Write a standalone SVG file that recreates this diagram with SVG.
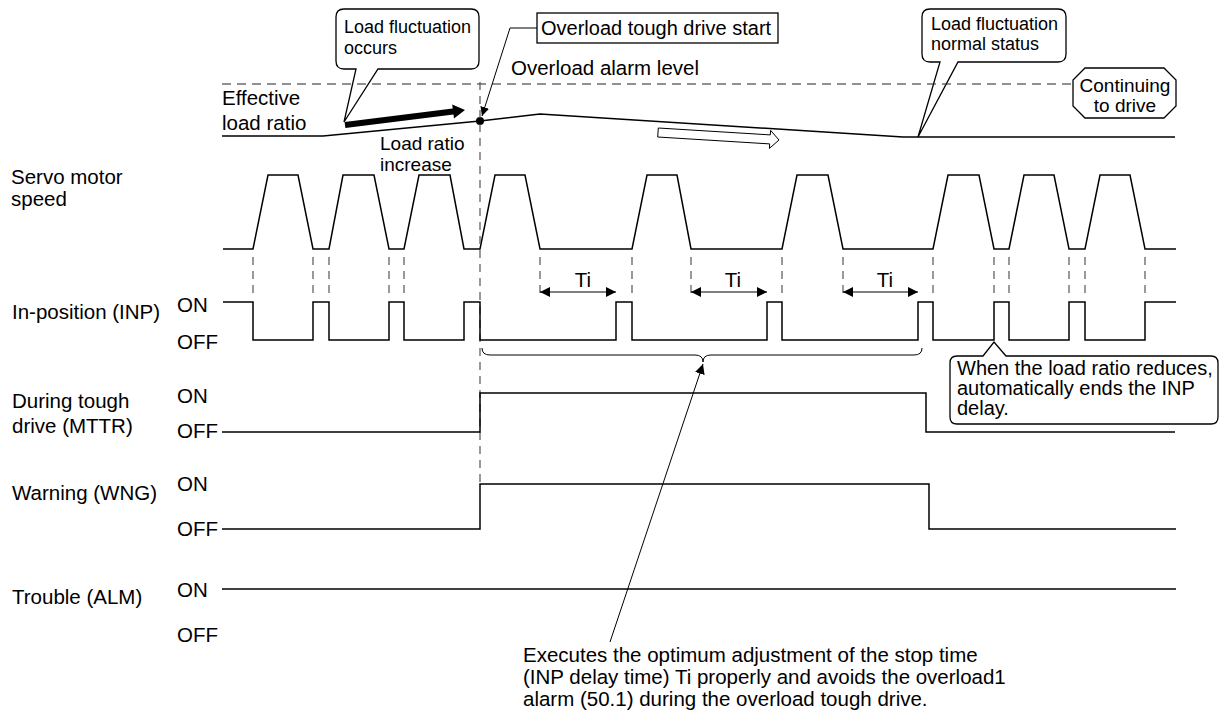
<svg xmlns="http://www.w3.org/2000/svg" width="1221" height="711" viewBox="0 0 1221 711">
<style>
.t{font-family:"Liberation Sans",Arial,sans-serif;font-size:20.5px;fill:#000}
.s{font-size:18px}
.sig{fill:none;stroke:#000;stroke-width:1.5}
.vd{fill:none;stroke:#555;stroke-width:1.2;stroke-dasharray:8 6}
.hd{fill:none;stroke:#222;stroke-width:1.2;stroke-dasharray:9 6}
.box{fill:#fff;stroke:#000;stroke-width:1.3}
.ln{fill:none;stroke:#000;stroke-width:1}
</style>
<defs>
<marker id="ah" viewBox="0 0 10 10" refX="10" refY="5" markerWidth="10" markerHeight="10" markerUnits="userSpaceOnUse" orient="auto-start-reverse"><path d="M0,0 L10,5 L0,10 z" fill="#000"/></marker>
<marker id="ahs" viewBox="0 0 10 10" refX="10" refY="5" markerWidth="9" markerHeight="9" markerUnits="userSpaceOnUse" orient="auto"><path d="M0,0 L10,5 L0,10 z" fill="#000"/></marker>
</defs>
<rect width="1221" height="711" fill="#fff"/>

<g id="callout-load-fluctuation">
<path class="box" d="M344,9 H471 Q479,9 479,17 V61 Q479,69 471,69 H378 L344,122 L356,69 H344 Q336,69 336,61 V17 Q336,9 344,9 Z"/>
<text class="t s" x="344" y="33">Load fluctuation</text>
<text class="t s" x="344" y="54">occurs</text>
</g>

<g id="callout-normal-status">
<path class="box" d="M930,9 H1058 Q1066,9 1066,17 V54 Q1066,62 1058,62 H958 L918,137 L940,62 H930 Q922,62 922,54 V17 Q922,9 930,9 Z"/>
<text class="t s" x="931" y="30">Load fluctuation</text>
<text class="t s" x="931" y="50">normal status</text>
</g>

<g id="alarm-level">
<line class="hd" x1="222" y1="84" x2="1073" y2="84"/>
<text class="t" x="511" y="75">Overload alarm level</text>
</g>

<g id="overload-start">
<rect class="box" x="537" y="13" width="241" height="30"/>
<text class="t" x="541" y="35" style="font-size:20px">Overload tough drive start</text>
</g>

<g id="continuing">
<path class="box" d="M1085,68 H1164 L1176,80 V106 L1164,118 H1085 L1073,106 V80 Z"/>
<text class="t" x="1125" y="92" text-anchor="middle" style="font-size:19px">Continuing</text>
<text class="t" x="1125" y="112" text-anchor="middle" style="font-size:19px">to drive</text>
</g>

<g id="effective-load-ratio">
<text class="t" x="222" y="105">Effective</text>
<text class="t" x="222" y="130">load ratio</text>
<polyline class="sig" points="222,136 323,136 480,121 540,114 903,137 1175,137"/>
<circle cx="480" cy="121" r="4" fill="#000"/>
<polygon points="344.6,122 452.7,108.5 452.2,104.6 465,110 454,118.4 453.5,114.5 345.4,128" fill="#000"/>
<polygon points="658.3,128 770.3,134.9 770.6,130.4 779,140 769.4,148.4 769.7,143.9 657.7,137" fill="#fff" stroke="#000" stroke-width="1"/>
<text class="t" x="380" y="150" style="font-size:19px">Load ratio</text>
<text class="t" x="380" y="171" style="font-size:19px">increase</text>
</g>

<g id="servo-speed">
<text class="t" x="11" y="184">Servo motor</text>
<text class="t" x="11" y="206">speed</text>
<path class="sig" d="M223,249 H253 L268,175 H298 L313,249 H329 L343,175 H374 L389,249 H404 L419,175 H450 L464,249 H480 L495,175 H525 L540,249 H632 L647,175 H677 L691,249 H782 L797,175 H828 L843,249 H933 L948,175 H979 L994,249 H1009 L1024,175 H1054 L1069,249 H1085 L1100,175 H1130 L1145,249 H1176"/>
</g>

<g id="timing-guides">
<line class="vd" x1="480" y1="82" x2="480" y2="484"/>
<path class="vd" d="M253,257 V296 M313,257 V296 M329,257 V296 M389,257 V296 M404,257 V296 M540,257 V296 M632,257 V296 M691,257 V296 M782,257 V296 M843,257 V296 M933,257 V296 M994,257 V296 M1009,257 V296 M1069,257 V296 M1085,257 V296 M1145,257 V296"/>
</g>

<g id="ti-dimensions">
<line class="ln" x1="540" y1="292" x2="616" y2="292" marker-start="url(#ah)" marker-end="url(#ah)"/>
<line class="ln" x1="691" y1="292" x2="767" y2="292" marker-start="url(#ah)" marker-end="url(#ah)"/>
<line class="ln" x1="843" y1="292" x2="918" y2="292" marker-start="url(#ah)" marker-end="url(#ah)"/>
<text class="t" x="583" y="287" text-anchor="middle">Ti</text>
<text class="t" x="733" y="287" text-anchor="middle">Ti</text>
<text class="t" x="885" y="287" text-anchor="middle">Ti</text>
</g>

<g id="inp">
<text class="t" x="12" y="319">In-position (INP)</text>
<text class="t" x="177" y="312">ON</text>
<text class="t" x="177" y="349">OFF</text>
<path class="sig" d="M223,302 H253 V340 H313 V302 H329 V340 H389 V302 H404 V340 H464 V302 H480 V340 H616 V302 H632 V340 H767 V302 H782 V340 H918 V302 H933 V340 H994 V302 H1009 V340 H1069 V302 H1085 V340 H1145 V302 H1176"/>
</g>

<g id="brace">
<path class="ln" d="M482,348 Q482,355 490,355 H695 Q703,355 703,362 Q703,355 711,355 H914 Q922,355 922,348"/>
</g>

<g id="callout-inp-end">
<path class="box" d="M957,356 H983 L994,342 L1006,356 H1211 Q1218,356 1218,363 V417 Q1218,424 1211,424 H957 Q950,424 950,417 V363 Q950,356 957,356 Z"/>
<text class="t" x="957" y="375" style="font-size:20px">When the load ratio reduces,</text>
<text class="t" x="957" y="395" style="font-size:20px">automatically ends the INP</text>
<text class="t" x="957" y="415" style="font-size:20px">delay.</text>
</g>

<g id="mttr">
<text class="t" x="12" y="408">During tough</text>
<text class="t" x="12" y="433">drive (MTTR)</text>
<text class="t" x="177" y="403">ON</text>
<text class="t" x="177" y="438">OFF</text>
<path class="sig" d="M222,432 H480 V393 H926 V432 H1175"/>
</g>

<g id="wng">
<text class="t" x="12" y="500">Warning (WNG)</text>
<text class="t" x="177" y="491">ON</text>
<text class="t" x="177" y="536">OFF</text>
<path class="sig" d="M222,529 H480 V484 H929 V529 H1176"/>
</g>

<g id="alm">
<text class="t" x="12" y="604">Trouble (ALM)</text>
<text class="t" x="177" y="597">ON</text>
<text class="t" x="177" y="642">OFF</text>
<path class="sig" d="M222,589 H1176"/>
</g>

<g id="note">
<text class="t" x="523" y="662">Executes the optimum adjustment of the stop time</text>
<text class="t" x="523" y="684">(INP delay time) Ti properly and avoids the overload1</text>
<text class="t" x="523" y="706">alarm (50.1) during the overload tough drive.</text>
</g>

<g id="connectors">
<polyline class="ln" points="537,28 510,28 482,116" marker-end="url(#ahs)"/>
<line class="ln" x1="610" y1="642" x2="703" y2="364" marker-end="url(#ah)"/>
</g>
</svg>
